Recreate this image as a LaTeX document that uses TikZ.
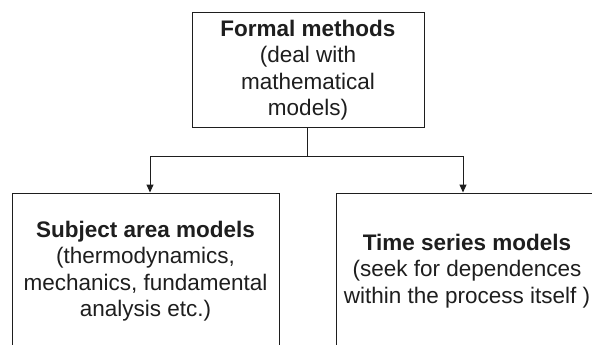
\documentclass[tikz,border=0pt]{standalone}
\usepackage{fontspec}
\setmainfont{Liberation Sans}
\usetikzlibrary{arrows.meta}
\definecolor{ink}{HTML}{1E1E1E}
\begin{document}
\begin{tikzpicture}[x=1pt,y=-1pt,
  box/.style={draw=ink, line width=1pt, align=center, inner sep=0pt, text=ink,
    font=\fontsize{22.5}{26.5}\selectfont},
  conn/.style={draw=ink, line width=1pt},
  arr/.style={conn, -{Triangle[length=8pt,width=7pt]}}]
\useasboundingbox (0,0) rectangle (592,345);
\fill[white] (0,0) rectangle (592,345);
\node[box, minimum width=232pt, minimum height=114pt] (top) at (308,70)
  {\textbf{Formal methods}\\(deal with\\mathematical\\models)};
\node[box, minimum width=267pt, minimum height=156pt] (left) at (145.5,271)
  {\textbf{Subject area models}\\(thermodynamics,\\mechanics, fundamental\\analysis etc.)};
\node[box, minimum width=262pt, minimum height=156pt] (right) at (467,271)
  {\textbf{Time series models}\\(seek for dependences\\within the process itself )};
\coordinate (j) at (307,156);
\draw[conn] (top.south -| j) -- (j);
\draw[arr] (j) -| ([xshift=4.5pt]left.north);
\draw[arr] (j) -| ([xshift=-4pt]right.north);
\end{tikzpicture}
\end{document}
